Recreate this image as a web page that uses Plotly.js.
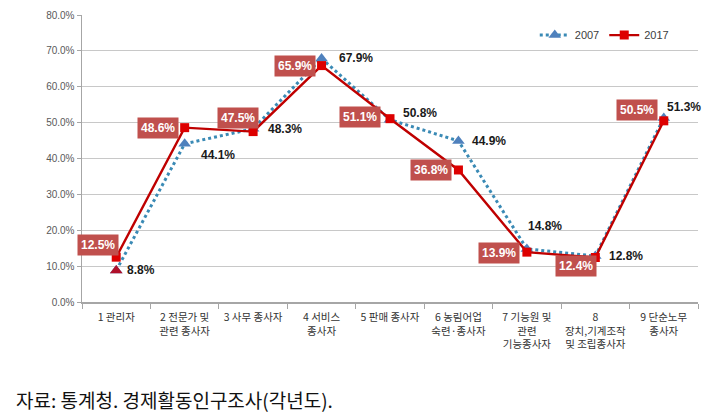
<!DOCTYPE html>
<html>
<head>
<meta charset="utf-8">
<script src="https://cdn.plot.ly/plotly-3.0.1.min.js"></script>
<style>html,body{margin:0;padding:0;background:#fff;}#chart{width:715px;height:414px;}</style>
</head>
<body>
<div id="chart"></div>
<script>
const categories = [
  "1 관리자",
  "2 전문가 및<br>관련 종사자",
  "3 사무 종사자",
  "4 서비스<br>종사자",
  "5 판매 종사자",
  "6 농림어업<br>숙련·종사자",
  "7 기능원 및<br>관련<br>기능종사자",
  "8<br>장치,기계조작<br>및 조립종사자",
  "9 단순노무<br>종사자"
];
const values2007 = [8.8, 44.1, 48.3, 67.9, 50.8, 44.9, 14.8, 12.8, 51.3];
const values2017 = [12.5, 48.6, 47.5, 65.9, 51.1, 36.8, 13.9, 12.4, 50.5];
const yTicks = [0, 10, 20, 30, 40, 50, 60, 70, 80];
const sourceNote = "자료: 통계청. 경제활동인구조사(각년도).";

// label placement (pixel shifts), style only
const shift2017 = [[-18,12],[-27,0],[-15,14],[-27,0],[-30,2],[-27,0],[-28,-1],[-19,-8],[-27,11]];
const shift2007 = [[25,0],[33,-11],[32,0],[34,0],[30,7],[31,0],[18,23],[31,0],[20,11]];

const latin = "'Liberation Sans', Arial, 'Noto Sans CJK KR', sans-serif";
const kr = "'Noto Sans CJK KR', 'Liberation Sans', sans-serif";

const trace2007 = {
  x: categories, y: values2007, name: "2007", type: "scatter", mode: "lines+markers",
  line: {color: "#3a8ab5", width: 3, dash: "dot"},
  marker: {symbol: "triangle-up", size: 11, color: "#4f81bd"}
};
// the first 2007 marker is drawn in dark red in the reference
const trace2007First = {
  x: [categories[0]], y: [values2007[0]], type: "scatter", mode: "markers", showlegend: false,
  marker: {symbol: "triangle-up", size: 11, color: "#b0102a"}
};
const trace2017 = {
  x: categories, y: values2017, name: "2017", type: "scatter", mode: "lines+markers",
  line: {color: "#bf0000", width: 2.4},
  marker: {symbol: "square", size: 9, color: "#dd0000"}
};

const annotations = [];
categories.forEach((c, i) => {
  annotations.push({
    x: c, y: values2017[i], xref: "x", yref: "y", showarrow: false,
    text: "<b>" + values2017[i].toFixed(1) + "%</b>",
    xshift: shift2017[i][0], yshift: shift2017[i][1],
    bgcolor: "#c0504d", borderpad: 3,
    font: {family: latin, size: 12, color: "#ffffff"}
  });
  annotations.push({
    x: c, y: values2007[i], xref: "x", yref: "y", showarrow: false,
    text: "<b>" + values2007[i].toFixed(1) + "%</b>",
    xshift: shift2007[i][0], yshift: shift2007[i][1],
    font: {family: latin, size: 12, color: "#1a1a1a"}
  });
});
annotations.push({
  xref: "paper", yref: "paper", x: -0.111, y: -0.34, xanchor: "left", yanchor: "middle",
  showarrow: false, text: sourceNote,
  font: {family: kr, size: 19, color: "#111111"}
});

const layout = {
  width: 715, height: 414,
  margin: {l: 82, r: 17, t: 15, b: 112},
  paper_bgcolor: "#ffffff", plot_bgcolor: "#ffffff",
  showlegend: true,
  legend: {orientation: "h", x: 0.735, y: 0.93, xanchor: "left", yanchor: "middle",
    font: {family: latin, size: 11, color: "#404040"}, bgcolor: "rgba(0,0,0,0)",
    traceorder: "normal"},
  xaxis: {
    type: "category", tickson: "boundaries", ticks: "outside", ticklen: 5, tickcolor: "#a6a6a6",
    showline: true, linecolor: "#a6a6a6", linewidth: 1.5, showgrid: false, zeroline: false,
    tickfont: {family: kr, size: 10.5, color: "#333333"}, tickangle: 0,
    ticklabelstandoff: 5,
    range: [-0.5, 8.5]
  },
  yaxis: {
    range: [0, 80], tickvals: yTicks, ticktext: yTicks.map(v => v.toFixed(1) + "%"),
    ticks: "outside", ticklen: 4, tickcolor: "#a6a6a6",
    showline: true, linecolor: "#a6a6a6", linewidth: 1.5,
    showgrid: true, gridcolor: "#c8c8c8", gridwidth: 1, zeroline: false,
    tickfont: {family: latin, size: 10, color: "#595959"}
  },
  annotations: annotations
};

Plotly.newPlot("chart", [trace2007, trace2007First, trace2017], layout, {displayModeBar: false, staticPlot: true});
</script>
</body>
</html>
